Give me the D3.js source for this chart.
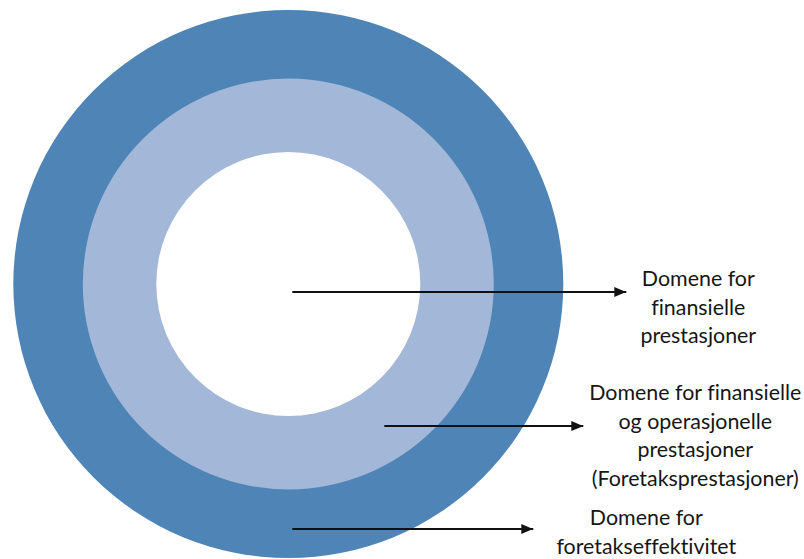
<!DOCTYPE html>
<html>
<head>
<meta charset="utf-8">
<script src="https://cdn.jsdelivr.net/npm/d3@7"></script>
<style>
  html, body { margin: 0; padding: 0; background: #ffffff; }
  svg { display: block; }
  text { font-family: Lato, "Open Sans", sans-serif; fill: #161616; font-variant-ligatures: none; font-feature-settings: "liga" 0; }
</style>
</head>
<body>
<svg id="chart" width="804" height="559"></svg>
<script>
// Nested domains, outermost first
const domainNames = ["Foretakseffektivitet", "Foretaksprestasjoner", "Finansielle prestasjoner"];
const domainRadii = [274, 205.5, 132];           // relative ring size
const domainColors = ["#4e84b6", "#a3b7d9", "#ffffff"];

// Callout labels (one entry per domain, outermost first)
const labelLines = [
  ["Domene for", "foretakseffektivitet"],
  ["Domene for finansielle", "og operasjonelle", "prestasjoner", "(Foretaksprestasjoner)"],
  ["Domene for", "finansielle", "prestasjoner"]
];
// Arrow start/end as offsets from the centre (x) and vertical offset (y)
const arrowStartX = [4, 96, 4];
const arrowEndX = [245, 295, 338];
const arrowY = [245, 142, 8];
const labelCenterX = [358, 407, 410];
const labelFirstLineY = [234, 109, -5];

const width = 804, height = 559;
const cx = 288.3, cy = 284;

const svg = d3.select("#chart");

const r = d3.scaleLinear().domain([0, 274]).range([0, 274]);

svg.append("defs").append("marker")
  .attr("id", "arrowhead")
  .attr("viewBox", "0 0 12 10")
  .attr("refX", 12).attr("refY", 5)
  .attr("markerUnits", "userSpaceOnUse")
  .attr("markerWidth", 12).attr("markerHeight", 10)
  .attr("orient", "auto")
  .append("path")
  .attr("d", "M0,0 L12,5 L0,10 Z")
  .attr("fill", "#111");

// Rings
svg.append("g").selectAll("ellipse")
  .data(domainRadii)
  .join("ellipse")
  .attr("cx", cx)
  .attr("cy", cy)
  .attr("rx", (d, i) => r(d) + (i === 0 ? 1 : 0))
  .attr("ry", d => r(d))
  .attr("fill", (d, i) => domainColors[i]);

// Arrows
svg.append("g").selectAll("line")
  .data(domainNames)
  .join("line")
  .attr("x1", (d, i) => cx + arrowStartX[i])
  .attr("x2", (d, i) => cx + arrowEndX[i])
  .attr("y1", (d, i) => cy + arrowY[i])
  .attr("y2", (d, i) => cy + arrowY[i])
  .attr("stroke", "#111")
  .attr("stroke-width", 1.8)
  .attr("marker-end", "url(#arrowhead)");

// Labels
const lineHeight = 28.5;
const labels = svg.append("g").selectAll("text")
  .data(labelLines)
  .join("text")
  .attr("text-anchor", "middle")
  .attr("font-size", 21.4)
  .attr("x", (d, i) => cx + labelCenterX[i])
  .attr("y", (d, i) => cy + labelFirstLineY[i]);

labels.selectAll("tspan")
  .data((d, i) => d.map(s => ({ s, i })))
  .join("tspan")
  .attr("x", d => cx + labelCenterX[d.i])
  .attr("dy", (d, j) => j === 0 ? "0.35em" : lineHeight)
  .text(d => d.s);
</script>
</body>
</html>
